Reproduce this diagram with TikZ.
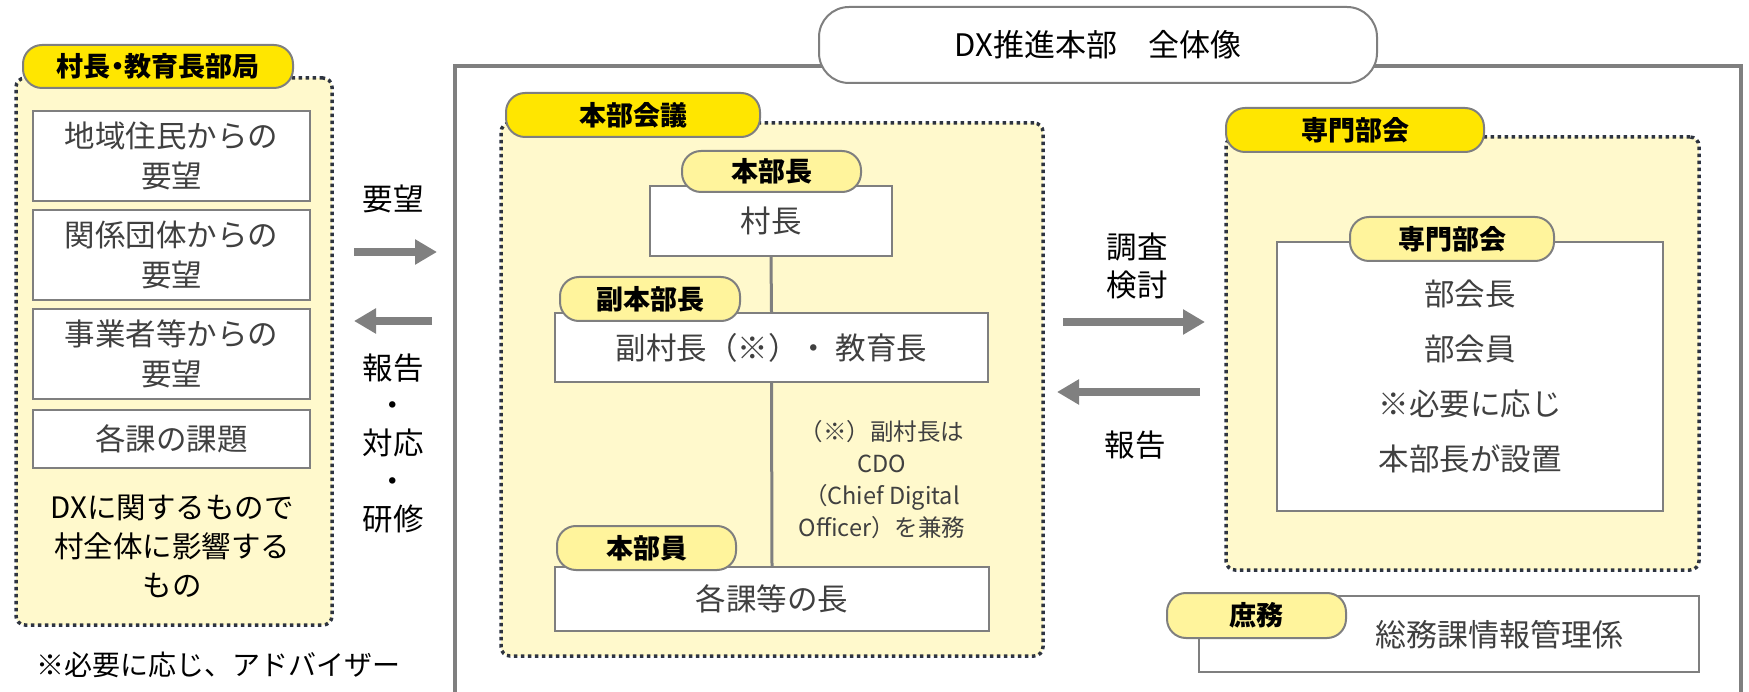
\documentclass[tikz,border=0pt]{standalone}
\usepackage{fontspec}
\setmainfont{Noto Sans CJK JP}
\usetikzlibrary{arrows.meta}
\definecolor{tagY}{HTML}{FFE600}
\definecolor{tagL}{HTML}{FFF49C}
\definecolor{panelY}{HTML}{FFF9CC}
\definecolor{edge}{HTML}{7F7F7F}
\definecolor{dots}{HTML}{2E3440}
\definecolor{txt}{HTML}{404040}
\definecolor{arr}{HTML}{808080}
\begin{document}
\begin{tikzpicture}[x=1pt,y=-1pt,
  panel/.style={draw=dots, fill=panelY, line width=3.5pt, dash pattern=on 3.5pt off 3.5pt, rounded corners=9pt, inner sep=0pt},
  wbox/.style={draw=edge, fill=white, line width=2pt, inner sep=0pt, text=txt, align=center, font=\fontsize{30.5}{40}\selectfont},
  tagb/.style={draw=edge, fill=tagY, line width=2pt, rounded corners=19pt, inner sep=0pt, font=\bfseries\fontsize{27}{32}\selectfont},
  tagl/.style={tagb, fill=tagL},
  lbl/.style={align=center, font=\fontsize{30.5}{38}\selectfont, inner sep=0pt},
  flow/.style={draw=arr, line width=8pt, -{Triangle[width=24pt,length=22pt]}},
  link/.style={draw=edge, line width=3pt},
  frame/.style={draw=edge, line width=4pt},
]
\useasboundingbox (0,0) rectangle (1749,692);

% ---------- left panel ----------
\node[panel, minimum width=316pt, minimum height=547pt] (lp) at (174,351.5) {};
\node[wbox, minimum width=277pt, minimum height=90pt] (b1) at (171.5,156) {地域住民からの\\要望};
\node[wbox, minimum width=277pt, minimum height=90pt] (b2) at (171.5,255) {関係団体からの\\要望};
\node[wbox, minimum width=277pt, minimum height=90pt] (b3) at (171.5,354) {事業者等からの\\要望};
\node[wbox, minimum width=277pt, minimum height=58pt] (b4) at (171.5,439) {各課の課題};
\node[align=center, inner sep=0pt, font=\fontsize{29.5}{39}\selectfont] (lnote) at (172,546) {DXに関するもので\\村全体に影響する\\もの};
\node[tagb, minimum width=270pt, minimum height=43pt] (ltag) at (158,66.5) {村長\kern-0.25em・\kern-0.25em 教育長部局};
\node[anchor=west, inner sep=0pt, font=\fontsize{28}{34}\selectfont] (adv) at (36,665) {※必要に応じ、アドバイザー};

% ---------- left arrows ----------
\node[lbl] (yobo) at (393,199) {要望};
\coordinate (a1s) at (354,252); \coordinate (a1e) at (437,252);
\draw[flow] (a1s) -- (a1e);
\coordinate (a2s) at (432,321); \coordinate (a2e) at (354,321);
\draw[flow] (a2s) -- (a2e);
\node[align=center, inner sep=0pt, font=\fontsize{30.5}{37.75}\selectfont] (hok1) at (393,443) {報告\\・\\対応\\・\\研修};

% ---------- frame ----------
\draw[frame] (455,692) -- (455,66) -- (1741,66) -- (1741,692);
\node[draw=edge, fill=white, line width=2pt, rounded corners=30pt, minimum width=558pt, minimum height=76pt, inner sep=0pt, font=\fontsize{31}{36}\selectfont] (title) at (1098,45) {DX推進本部　全体像};

% ---------- 本部会議 ----------
\node[panel, minimum width=542pt, minimum height=533pt] (hq) at (772,389.5) {};
\node[wbox, minimum width=242pt, minimum height=70pt] (sonchou) at (771,221) {村長};
\node[wbox, minimum width=433pt, minimum height=69pt] (fuku) at (771.5,347.5) {副村長（※）・ 教育長};
\node[wbox, minimum width=434pt, minimum height=64pt] (kaku) at (772,599) {各課等の長};
\draw[link] (sonchou.south) -- (fuku.north);
\draw[link] (fuku.south) -- (kaku.north);
\node[align=center, inner sep=0pt, text=txt, font=\fontsize{23.5}{32}\selectfont] (cdo) at (882,479.5) {（※）副村長は\\CDO\\（Chief Digital\\Officer）を兼務};
\node[tagb, minimum width=254pt, minimum height=44pt] (hqtag) at (633,115) {本部会議};
\node[tagl, minimum width=179pt, minimum height=41pt] (t1) at (771.5,171.5) {本部長};
\node[tagl, minimum width=180pt, minimum height=44pt] (t2) at (650,299) {副本部長};
\node[tagl, minimum width=179pt, minimum height=44pt] (t3) at (646.5,548) {本部員};

% ---------- middle arrows ----------
\node[lbl] (chousa) at (1137,266) {調査\\検討};
\coordinate (a3s) at (1063,322); \coordinate (a3e) at (1205,322);
\draw[flow] (a3s) -- (a3e);
\coordinate (a4s) at (1200,392); \coordinate (a4e) at (1057,392);
\draw[flow] (a4s) -- (a4e);
\node[lbl] (hok2) at (1135,445) {報告};

% ---------- 専門部会 ----------
\node[panel, minimum width=473pt, minimum height=433pt] (sp) at (1462.5,353.5) {};
\node[wbox, minimum width=386pt, minimum height=269pt, font=\fontsize{30.5}{54.7}\selectfont] (spin) at (1470,376.5) {部会長\\部会員\\※必要に応じ\\本部長が設置};
\node[tagb, minimum width=258pt, minimum height=44pt] (sptag) at (1355,130) {専門部会};
\node[tagl, minimum width=204pt, minimum height=44pt] (sptag2) at (1452,239) {専門部会};

% ---------- 庶務 ----------
\node[wbox, minimum width=500pt, minimum height=76pt] (shomu) at (1449,634) {};
\node[inner sep=0pt, text=txt, font=\fontsize{31}{36}\selectfont] (shomutxt) at (1499,635) {総務課情報管理係};
\node[tagl, minimum width=179pt, minimum height=45pt] (shtag) at (1256.5,615.5) {庶務};
\end{tikzpicture}
\end{document}
